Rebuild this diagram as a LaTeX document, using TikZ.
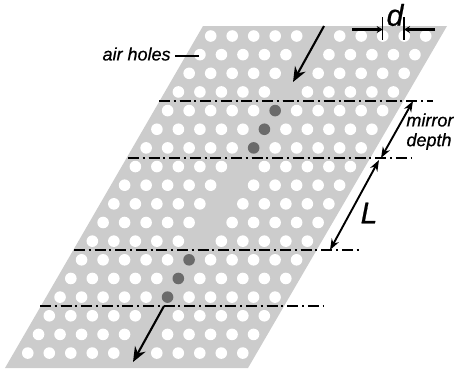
\documentclass[tikz,border=0pt]{standalone}
\usepackage{fontspec}
\setmainfont[ItalicFeatures={FakeBold=0.6}]{Liberation Sans}
\usetikzlibrary{arrows.meta}
\tikzset{
  labeltext/.style={font=\fontsize{9}{10.5}\selectfont\itshape,inner sep=0pt},
  biglabel/.style={font=\fontsize{15}{17}\selectfont\itshape,inner sep=0pt},
  beam/.style={line width=1.05pt,-{Stealth[length=7.5pt,width=6pt]}},
  gauge/.style={line width=0.95pt,{Stealth[length=5.5pt,width=4pt]}-{Stealth[length=5.5pt,width=4pt]}},
  mirrorline/.style={line width=1.05pt,dash pattern=on 5.5pt off 1.9pt on 1pt off 1.9pt},
  mirrortail/.style={line width=0.6pt,dash pattern=on 5.5pt off 1.9pt on 1pt off 1.9pt}
}
\begin{document}
\begin{tikzpicture}[x=0.5pt,y=-0.5pt]
\useasboundingbox (0,0) rectangle (454,372);

% slab
\fill[black!20] (203,26) -- (447,26) -- (248,368) -- (5,368) -- cycle;

% air holes, line defect in column 5
\foreach \r in {0,...,17} {
\foreach \c in {0,...,10} {
\ifnum\c=5\else
\fill[white] ({210.7+21.5*\c-10.76*\r},{36+18.65*\r}) circle (5.8);
\fi
}
}

% cavity holes
\foreach \r in {4,5,6,12,13,14}
\fill[black!58] ({210.7+21.5*5-10.76*\r},{36+18.65*\r}) circle (5.8);

% mirror planes
\foreach \y/\a/\b/\e in {101/159/423/433,158/128/380/412,250/74/320/361,306/40/285/323} {
\draw[mirrortail] (\a,\y) -- (\e,\y);
\draw[mirrorline] (\a,\y) -- (\b,\y);
}

% beam in and out
\coordinate (inA) at (324,26);
\coordinate (inB) at (293,82);
\coordinate (outA) at (164,306);
\coordinate (outB) at (133,362);
\draw[beam] (inA) -- (inB);
\draw[beam] (outA) -- (outB);

% air holes label
\node[labeltext,anchor=east] (airlabel) at (171,54) {air holes};
\coordinate (airhole) at (199,55.5);
\draw[line width=1pt] (airlabel.east) ++(4,1.5) -- (airhole);

% period d
\node[biglabel,font=\fontsize{15}{17}\selectfont\itshape] (dlabel) at (395,15) {d};
\coordinate (dLtop) at (382.7,17);
\coordinate (dLbot) at (382.7,40);
\coordinate (dRtop) at (404,17);
\coordinate (dRbot) at (404,40);
\coordinate (dLout) at (352,29.5);
\coordinate (dRout) at (435,29.5);
\coordinate (dLin) at (382.7,29.5);
\coordinate (dRin) at (404,29.5);
\draw[line width=0.7pt] (dLtop) -- (dLbot);
\draw[line width=0.7pt] (dRtop) -- (dRbot);
\draw[line width=1.05pt,-{Stealth[length=3pt,width=3.5pt]}] (dLout) -- (dLin);
\draw[line width=1.05pt,-{Stealth[length=3pt,width=3.5pt]}] (dRout) -- (dRin);

% mirror depth and L
\coordinate (mA) at (413,101);
\coordinate (mB) at (381,158);
\coordinate (lA) at (379,160);
\coordinate (lB) at (330,250);
\draw[gauge] (mA) -- (mB);
\draw[gauge] (lA) -- (lB);
\node[labeltext,anchor=west] (mirrorlabel) at (406,120) {mirror};
\node[labeltext] (depthlabel) at (429,141.5) {depth};
\node[biglabel] (Llabel) at (369,213) {L};

\end{tikzpicture}
\end{document}
